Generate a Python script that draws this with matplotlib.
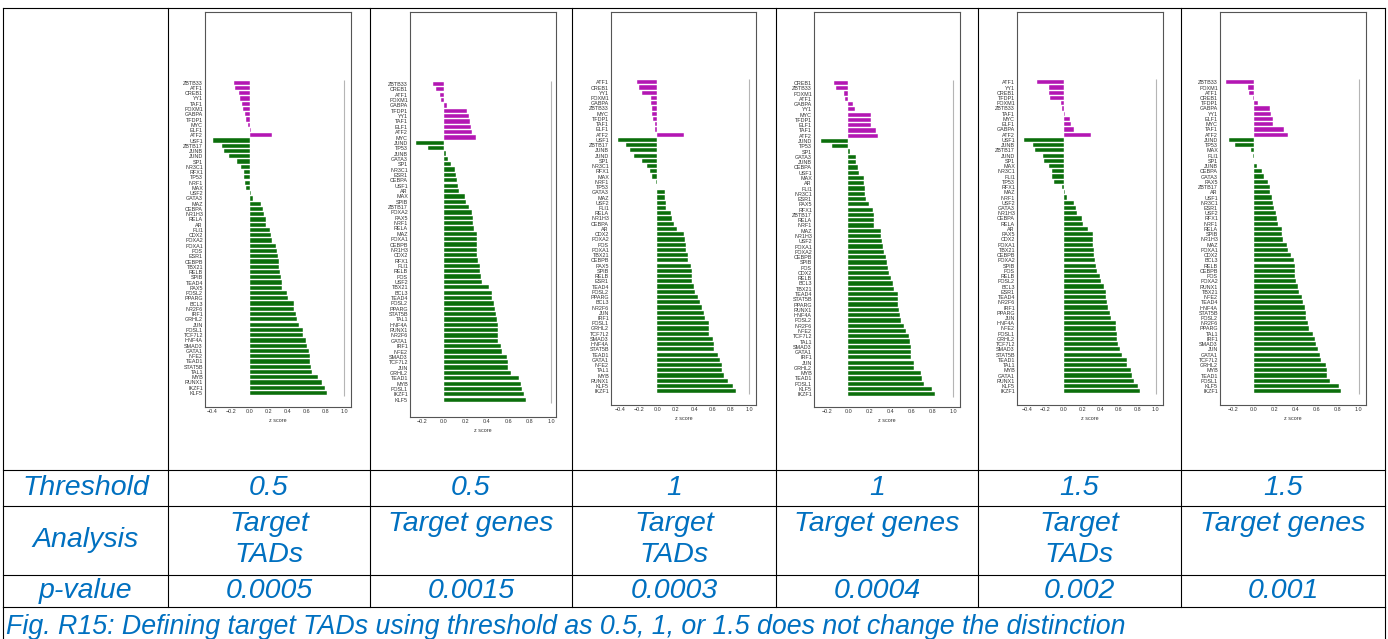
import matplotlib
matplotlib.use("Agg")
import matplotlib.pyplot as plt
from matplotlib.ticker import MultipleLocator

plt.rcParams['font.family'] = ['Liberation Sans', 'DejaVu Sans']

W, H = 1388, 639
BLUE = '#0070C0'
MAGENTA = '#b316b3'
GREEN = '#0b6e0b'
N_GROUP1 = 11  # first block of TFs drawn in magenta

# z scores per TF, one list per table column
tf_t05_tads = ['ZBTB33', 'ATF1', 'CREB1', 'YY1', 'TAF1', 'FOXM1', 'GABPA', 'TFDP1', 'MYC', 'ELF1', 'ATF2',
               'USF1', 'ZBTB17', 'JUNB', 'JUND', 'SP1', 'NR3C1', 'RFX1', 'TP53', 'NRF1', 'MAX',
               'USF2', 'GATA3', 'MAZ', 'CEBPA', 'NR1H3', 'RELA', 'AR', 'FLI1', 'CDX2', 'FOXA2',
               'FOXA1', 'FOS', 'ESR1', 'CEBPB', 'TBX21', 'RELB', 'SPIB', 'TEAD4', 'PAX5', 'FOSL2',
               'PPARG', 'BCL3', 'NR2F6', 'IRF1', 'GRHL2', 'JUN', 'FOSL1', 'TCF7L2', 'HNF4A', 'SMAD3',
               'GATA1', 'NFE2', 'TEAD1', 'STAT5B', 'TAL1', 'MYB', 'RUNX1', 'IKZF1', 'KLF5']
z_t05_tads = [-0.167, -0.156, -0.117, -0.106, -0.082, -0.078, -0.050, -0.039, -0.018, 0.014, 0.230,
              -0.397, -0.294, -0.280, -0.227, -0.142, -0.099, -0.067, -0.060, -0.050, -0.039,
              0.014, 0.028, 0.121, 0.142, 0.149, 0.167, 0.167, 0.216, 0.220, 0.230,
              0.273, 0.284, 0.301, 0.312, 0.312, 0.323, 0.326, 0.337, 0.340, 0.397,
              0.408, 0.468, 0.472, 0.493, 0.496, 0.518, 0.560, 0.564, 0.599, 0.603,
              0.631, 0.635, 0.642, 0.645, 0.663, 0.720, 0.770, 0.798, 0.819]

tf_t05_genes = ['ZBTB33', 'CREB1', 'ATF1', 'FOXM1', 'GABPA', 'TFDP1', 'YY1', 'TAF1', 'ELF1', 'ATF2', 'MYC',
                'JUND', 'TP53', 'JUNB', 'GATA3', 'SP1', 'NR3C1', 'ESR1', 'CEBPA', 'USF1', 'AR',
                'MAX', 'SPIB', 'ZBTB17', 'FOXA2', 'PAX5', 'NRF1', 'RELA', 'MAZ', 'FOXA1', 'CEBPB',
                'NR1H3', 'CDX2', 'RFX1', 'FLI1', 'RELB', 'FOS', 'USF2', 'TBX21', 'BCL3', 'TEAD4',
                'FOSL2', 'PPARG', 'STAT5B', 'TAL1', 'HNF4A', 'RUNX1', 'NR2F6', 'GATA1', 'IRF1', 'NFE2',
                'SMAD3', 'TCF7L2', 'JUN', 'GRHL2', 'TEAD1', 'MYB', 'FOSL1', 'IKZF1', 'KLF5']
z_t05_genes = [-0.100, -0.072, -0.034, -0.028, 0.031, 0.218, 0.234, 0.246, 0.255, 0.262, 0.299,
               -0.259, -0.146, 0.022, 0.040, 0.062, 0.106, 0.112, 0.118, 0.131, 0.143,
               0.196, 0.209, 0.234, 0.259, 0.268, 0.271, 0.283, 0.305, 0.306, 0.306,
               0.308, 0.312, 0.321, 0.336, 0.340, 0.349, 0.358, 0.417, 0.445, 0.452,
               0.467, 0.474, 0.486, 0.495, 0.502, 0.502, 0.508, 0.508, 0.533, 0.545,
               0.586, 0.595, 0.598, 0.629, 0.698, 0.720, 0.729, 0.748, 0.763]

tf_t1_tads = ['ATF1', 'CREB1', 'YY1', 'FOXM1', 'GABPA', 'ZBTB33', 'MYC', 'TFDP1', 'TAF1', 'ELF1', 'ATF2',
              'USF1', 'ZBTB17', 'JUNB', 'JUND', 'SP1', 'NR3C1', 'RFX1', 'MAX', 'NRF1', 'TP53',
              'GATA3', 'MAZ', 'USF2', 'FLI1', 'RELA', 'NR1H3', 'CEBPA', 'AR', 'CDX2', 'FOXA2',
              'FOS', 'FOXA1', 'TBX21', 'CEBPB', 'PAX5', 'SPIB', 'RELB', 'ESR1', 'TEAD4', 'FOSL2',
              'PPARG', 'BCL3', 'NR2F6', 'JUN', 'IRF1', 'FOSL1', 'GRHL2', 'TCF7L2', 'SMAD3', 'HNF4A',
              'STAT5B', 'TEAD1', 'GATA1', 'NFE2', 'TAL1', 'MYB', 'RUNX1', 'KLF5', 'IKZF1']
z_t1_tads = [-0.217, -0.196, -0.167, -0.065, -0.065, -0.062, -0.058, -0.051, -0.029, -0.022, 0.293,
             -0.424, -0.341, -0.293, -0.250, -0.170, -0.116, -0.080, -0.054, -0.018, 0.001,
             0.080, 0.087, 0.091, 0.098, 0.145, 0.156, 0.181, 0.217, 0.295, 0.304,
             0.312, 0.312, 0.330, 0.337, 0.366, 0.373, 0.377, 0.380, 0.395, 0.413,
             0.446, 0.467, 0.486, 0.504, 0.514, 0.558, 0.558, 0.558, 0.609, 0.616,
             0.620, 0.656, 0.685, 0.699, 0.707, 0.721, 0.764, 0.819, 0.855]

tf_t1_genes = ['CREB1', 'ZBTB33', 'FOXM1', 'ATF1', 'GABPA', 'YY1', 'MYC', 'TFDP1', 'ELF1', 'TAF1', 'ATF2',
               'JUND', 'TP53', 'SP1', 'GATA3', 'JUNB', 'CEBPA', 'USF1', 'MAX', 'AR', 'FLI1',
               'NR3C1', 'ESR1', 'PAX5', 'RFX1', 'ZBTB17', 'RELA', 'NRF1', 'MAZ', 'NR1H3', 'USF2',
               'FOXA1', 'FOXA2', 'CEBPB', 'SPIB', 'FOS', 'CDX2', 'RELB', 'BCL3', 'TBX21', 'TEAD4',
               'STAT5B', 'PPARG', 'RUNX1', 'HNF4A', 'FOSL2', 'NR2F6', 'NFE2', 'TCF7L2', 'TAL1', 'SMAD3',
               'GATA1', 'IRF1', 'JUN', 'GRHL2', 'MYB', 'TEAD1', 'FOSL1', 'KLF5', 'IKZF1']
z_t1_genes = [-0.137, -0.121, -0.038, -0.029, 0.044, 0.067, 0.213, 0.216, 0.219, 0.263, 0.279,
              -0.263, -0.159, 0.013, 0.070, 0.076, 0.096, 0.098, 0.146, 0.149, 0.156,
              0.159, 0.171, 0.200, 0.238, 0.241, 0.248, 0.248, 0.311, 0.315, 0.317,
              0.330, 0.337, 0.362, 0.368, 0.375, 0.384, 0.403, 0.429, 0.432, 0.470,
              0.473, 0.473, 0.483, 0.495, 0.498, 0.527, 0.546, 0.581, 0.587, 0.597,
              0.600, 0.600, 0.622, 0.629, 0.692, 0.702, 0.721, 0.797, 0.825]

tf_t15_tads = ['ATF1', 'YY1', 'CREB1', 'TFDP1', 'FOXM1', 'ZBTB33', 'TAF1', 'MYC', 'ELF1', 'GABPA', 'ATF2',
               'USF1', 'JUNB', 'ZBTB17', 'JUND', 'SP1', 'MAX', 'NR3C1', 'FLI1', 'TP53', 'RFX1',
               'MAZ', 'NRF1', 'USF2', 'GATA3', 'NR1H3', 'CEBPA', 'RELA', 'AR', 'PAX5', 'CDX2',
               'FOXA1', 'TBX21', 'CEBPB', 'FOXA2', 'SPIB', 'FOS', 'RELB', 'FOSL2', 'BCL3', 'ESR1',
               'TEAD4', 'NR2F6', 'IRF1', 'PPARG', 'JUN', 'HNF4A', 'NFE2', 'FOSL1', 'GRHL2', 'TCF7L2',
               'SMAD3', 'STAT5B', 'TEAD1', 'TAL1', 'MYB', 'GATA1', 'RUNX1', 'KLF5', 'IKZF1']
z_t15_tads = [-0.286, -0.163, -0.163, -0.152, -0.025, -0.022, 0.018, 0.072, 0.076, 0.116, 0.301,
              -0.435, -0.337, -0.312, -0.228, -0.214, -0.163, -0.130, -0.123, -0.101, -0.014,
              0.011, 0.033, 0.109, 0.134, 0.141, 0.203, 0.207, 0.261, 0.315, 0.315,
              0.319, 0.326, 0.326, 0.337, 0.355, 0.362, 0.391, 0.402, 0.442, 0.457,
              0.464, 0.475, 0.478, 0.504, 0.511, 0.565, 0.569, 0.576, 0.580, 0.587,
              0.609, 0.634, 0.688, 0.692, 0.732, 0.739, 0.764, 0.808, 0.826]

tf_t15_genes = ['ZBTB33', 'FOXM1', 'ATF1', 'CREB1', 'TFDP1', 'GABPA', 'YY1', 'ELF1', 'MYC', 'TAF1', 'ATF2',
                'JUND', 'TP53', 'MAX', 'FLI1', 'SP1', 'JUNB', 'CEBPA', 'GATA3', 'PAX5', 'ZBTB17',
                'AR', 'USF1', 'NR3C1', 'ESR1', 'USF2', 'RFX1', 'NRF1', 'RELA', 'SPIB', 'NR1H3',
                'MAZ', 'FOXA1', 'CDX2', 'BCL3', 'RELB', 'CEBPB', 'FOS', 'FOXA2', 'RUNX1', 'TBX21',
                'NFE2', 'TEAD4', 'HNF4A', 'STAT5B', 'FOSL2', 'NR2F6', 'PPARG', 'TAL1', 'IRF1', 'SMAD3',
                'JUN', 'GATA1', 'TCF7L2', 'GRHL2', 'MYB', 'TEAD1', 'FOSL1', 'KLF5', 'IKZF1']
z_t15_genes = [-0.260, -0.057, -0.041, -0.010, 0.044, 0.159, 0.165, 0.184, 0.184, 0.292, 0.327,
               -0.235, -0.181, -0.022, -0.007, 0.001, 0.035, 0.076, 0.095, 0.133, 0.156,
               0.159, 0.178, 0.187, 0.194, 0.216, 0.222, 0.235, 0.270, 0.270, 0.276,
               0.317, 0.327, 0.359, 0.387, 0.390, 0.390, 0.397, 0.403, 0.419, 0.435,
               0.460, 0.470, 0.486, 0.495, 0.498, 0.521, 0.524, 0.562, 0.581, 0.590,
               0.616, 0.629, 0.638, 0.689, 0.698, 0.702, 0.727, 0.816, 0.835]

thresholds = ['0.5', '0.5', '1', '1', '1.5', '1.5']
analyses = ['Target\nTADs', 'Target genes', 'Target\nTADs', 'Target genes', 'Target\nTADs', 'Target genes']
p_values = ['0.0005', '0.0015', '0.0003', '0.0004', '0.002', '0.001']
caption = ('Fig. R15: Defining target TADs using threshold as 0.5, 1, or 1.5 does not change the '
           'distinction')

panel_tfs = [tf_t05_tads, tf_t05_genes, tf_t1_tads, tf_t1_genes, tf_t15_tads, tf_t15_genes]
panel_z = [z_t05_tads, z_t05_genes, z_t1_tads, z_t1_genes, z_t15_tads, z_t15_genes]

# pixel layout of each small chart: axes box (left, top, right, bottom),
# x of z=0, pixels per unit z, y of first and last bar centre
layout = [
    dict(box=(205, 12, 351, 407), x0=250.0, scale=94, yfirst=82.7, ylast=393.0),
    dict(box=(410, 12, 556, 417), x0=444.0, scale=107, yfirst=84.0, ylast=399.7),
    dict(box=(611, 12, 756, 405), x0=657.3, scale=92, yfirst=82.3, ylast=391.3),
    dict(box=(814, 12, 960, 407), x0=848.3, scale=105, yfirst=83.0, ylast=394.3),
    dict(box=(1017, 12, 1163, 405), x0=1063.7, scale=92, yfirst=82.3, ylast=391.3),
    dict(box=(1220, 12, 1366, 405), x0=1253.7, scale=105, yfirst=82.3, ylast=391.3),
]

col_edges = [3, 168, 370, 572, 776, 978, 1181, 1385]
row_edges = [8, 470, 506, 575, 607]

fig = plt.figure(figsize=(W / 100, H / 100), dpi=100)
fig.patch.set_facecolor('white')


def px_rect(l, t, r, b):
    return [l / W, 1 - b / H, (r - l) / W, (b - t) / H]


for tfs, z, lay in zip(panel_tfs, panel_z, layout):
    l, t, r, b = lay['box']
    ax = fig.add_axes(px_rect(l, t, r, b))
    n = len(tfs)
    pos = list(range(n))
    colors = [MAGENTA if i < N_GROUP1 else GREEN for i in pos]
    ax.barh(pos, z, height=0.8, color=colors, edgecolor='white', linewidth=0.3)

    step = (lay['ylast'] - lay['yfirst']) / (n - 1)
    ax.set_ylim((n - 1) + (b - lay['ylast']) / step, -(lay['yfirst'] - t) / step)
    ax.set_xlim((l - lay['x0']) / lay['scale'], (r - lay['x0']) / lay['scale'])
    ax.vlines(1.0, -0.6, n - 0.4, color='#b5b5b5', linewidth=0.8)

    ax.set_yticks(pos)
    ax.set_yticklabels(tfs, fontsize=3.9, color='#333333')
    ax.xaxis.set_major_locator(MultipleLocator(0.2))
    ax.tick_params(axis='both', length=0, pad=1.5, labelsize=3.9, colors='#333333')
    ax.set_xlabel('z score', fontsize=3.9, color='#333333', labelpad=2.5)
    for sp in ax.spines.values():
        sp.set_color('#555555')
        sp.set_linewidth(0.8)

# table grid and text on a full-figure overlay
ov = fig.add_axes([0, 0, 1, 1], facecolor='none')
ov.set_xlim(0, W)
ov.set_ylim(H, 0)
ov.axis('off')

for x in col_edges:
    ov.plot([x, x], [row_edges[0], row_edges[-1]], color='black', lw=0.8)
for x in (col_edges[0], col_edges[-1]):
    ov.plot([x, x], [row_edges[-1], H], color='black', lw=0.8)
for y in row_edges:
    ov.plot([col_edges[0], col_edges[-1]], [y, y], color='black', lw=0.8)

txt = dict(color=BLUE, fontsize=20.5, style='italic', ha='center')
centres = [(col_edges[i] + col_edges[i + 1]) / 2 for i in range(len(col_edges) - 1)]

ov.text(centres[0], 488, 'Threshold', va='center', **txt)
ov.text(centres[0], 540, 'Analysis', va='center', **txt)
ov.text(centres[0], 591, 'p-value', va='center', **txt)
for cx, th, an, pv in zip(centres[1:], thresholds, analyses, p_values):
    ov.text(cx, 488, th, va='center', **txt)
    ov.text(cx, 511, an, va='top', linespacing=1.27, **txt)
    ov.text(cx, 591, pv, va='center', **txt)

ov.text(6, 634, caption, color=BLUE, fontsize=19.3, style='italic', ha='left', va='baseline')

fig.savefig('out.png', dpi=100, facecolor='white')
